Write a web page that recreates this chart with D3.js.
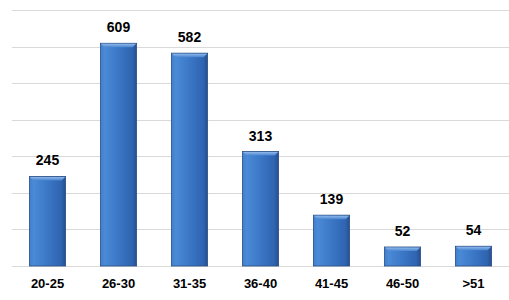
<!DOCTYPE html>
<html><head><meta charset="utf-8">
<script src="https://cdn.jsdelivr.net/npm/d3@7"></script>
<style>body{margin:0;background:#fff}svg{display:block}</style>
</head><body>
<script>
const categories = ["20-25","26-30","31-35","36-40","41-45","46-50",">51"];
const values = [245,609,582,313,139,52,54];
const yTicks = [0,100,200,300,400,500,600,700];

const W=509,H=300;
const m={left:12,right:0,top:10,bottom:34};
const svg=d3.select("body").append("svg").attr("width",W).attr("height",H);
const defs=svg.append("defs");
const g1=defs.append("linearGradient").attr("id","bg").attr("x1",0).attr("x2",1).attr("y1",0).attr("y2",0);
[[0,"#3f7fcd"],[0.12,"#4a8ad6"],[0.5,"#3b77c6"],[0.88,"#2f64b0"],[1,"#264f8e"]].forEach(s=>g1.append("stop").attr("offset",s[0]).attr("stop-color",s[1]));
const g2=defs.append("linearGradient").attr("id","tg").attr("x1",0).attr("x2",0).attr("y1",0).attr("y2",1);
[[0,"#8fb8ea"],[1,"#4a86d2"]].forEach(s=>g2.append("stop").attr("offset",s[0]).attr("stop-color",s[1]));

const x=d3.scaleBand().domain(categories).range([m.left,W-m.right]).paddingInner(0.49).paddingOuter(0.245);
const y=d3.scaleLinear().domain([0,700]).range([H-m.bottom,m.top]);

const grid=svg.append("g").attr("class","grid").call(d3.axisLeft(y).tickValues(yTicks).tickSize(-(W-m.left-m.right)).tickFormat(""))
  .attr("transform",`translate(${m.left},0)`);
grid.select(".domain").remove();
grid.selectAll("line").attr("stroke","#d9d9d9").attr("stroke-width",1).attr("shape-rendering","crispEdges");

const bars=svg.append("g").selectAll("g").data(categories).join("g");
bars.append("rect").attr("x",d=>x(d)).attr("y",(d,i)=>y(values[i])).attr("width",x.bandwidth())
  .attr("height",(d,i)=>y(0)-y(values[i])).attr("fill","url(#bg)").attr("stroke","#2b4f86").attr("stroke-width",0.8);
bars.append("path").attr("d",(d,i)=>{const x0=x(d),x1=x0+x.bandwidth(),t=y(values[i]);return `M${x0+0.5},${t+0.5}L${x1-0.5},${t+0.5}L${x1-4},${t+4}L${x0+4},${t+4}Z`;})
  .attr("fill","url(#tg)");

svg.append("g").selectAll("text").data(categories).join("text")
  .attr("x",d=>x(d)+x.bandwidth()/2).attr("y",(d,i)=>y(values[i])-11)
  .attr("text-anchor","middle").attr("font-family","Liberation Sans, Arial, sans-serif").attr("font-weight","bold").attr("font-size",14)
  .attr("fill","#000").text((d,i)=>values[i]);

const xa=svg.append("g").attr("transform",`translate(0,${H-m.bottom})`).call(d3.axisBottom(x).tickSize(0).tickPadding(13));
xa.select(".domain").remove();
xa.selectAll("text").attr("font-family","Liberation Sans, Arial, sans-serif").attr("font-weight","bold").attr("font-size",13).attr("fill","#000");
</script>
</body></html>
